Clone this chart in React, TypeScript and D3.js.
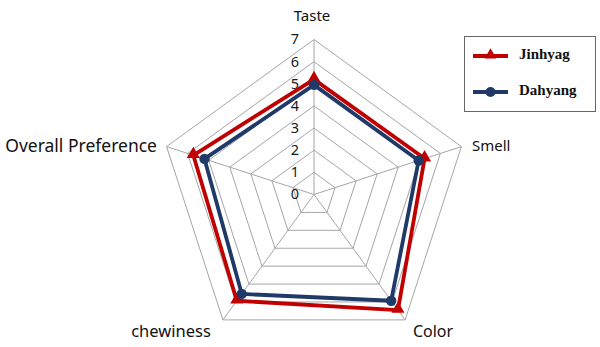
import React from "react";
import * as d3 from "d3";

// Sensory attributes (clockwise from the top)
const attributes = ["Taste", "Smell", "Color", "chewiness", "Overall Preference"];
// Mean scores per cultivar
const jinhyag = [5.2, 5.25, 6.45, 5.93, 5.73];
const dahyang = [4.95, 4.97, 5.93, 5.55, 5.2];
const ticks = [0, 1, 2, 3, 4, 5, 6, 7];
const seriesNames = ["Jinhyag", "Dahyang"];

const W = 600;
const H = 347;
const cx = 314;
const cy = 194.5;
const R = 155;

const rScale = d3.scaleLinear().domain([0, 7]).range([0, R]);
const angle = (i: number) => (i * 2 * Math.PI) / attributes.length;
const pt = (i: number, v: number): [number, number] => {
  const r = rScale(v);
  return [cx + r * Math.sin(angle(i)), cy - r * Math.cos(angle(i))];
};

const RED = "#C00000";
const NAVY = "#1F3A68";

const labelPos = [
  { x: 312, y: 17, anchor: "middle", size: 15 },
  { x: 472, y: 147, anchor: "start", size: 15 },
  { x: 433, y: 333, anchor: "middle", size: 16 },
  { x: 171, y: 333, anchor: "middle", size: 16.5 },
  { x: 157, y: 147, anchor: "end", size: 17.5 },
];

function Series({ values, color, marker }: { values: number[]; color: string; marker: "tri" | "dot" }) {
  const pts = values.map((v, i) => pt(i, v));
  const line = d3.line().curve(d3.curveLinearClosed)(pts) || "";
  const tri = d3.symbol(d3.symbolTriangle, 75)() || "";
  return (
    <g>
      <path d={line} fill="none" stroke={color} strokeWidth={3.8} strokeLinejoin="round" />
      {pts.map((p, i) =>
        marker === "tri" ? (
          <path key={i} d={tri} transform={`translate(${p[0]},${p[1] - 1})`} fill={color} />
        ) : (
          <circle key={i} cx={p[0]} cy={p[1]} r={5.2} fill={color} />
        )
      )}
    </g>
  );
}

export default function App() {
  const gridRings = ticks.filter((t) => t > 0);
  const tri = d3.symbol(d3.symbolTriangle, 60)() || "";
  return (
    <svg width={W} height={H} style={{ position: "absolute", left: 0, top: 0, background: "#fff" }}>
      {/* grid rings */}
      {gridRings.map((t) => (
        <path
          key={t}
          d={d3.line().curve(d3.curveLinearClosed)(attributes.map((_, i) => pt(i, t))) || ""}
          fill="none"
          stroke="#a6a6a6"
          strokeWidth={1}
        />
      ))}
      {/* spokes */}
      {attributes.map((_, i) => {
        const [x, y] = pt(i, 7);
        return <line key={i} x1={cx} y1={cy} x2={x} y2={y} stroke="#a6a6a6" strokeWidth={1} />;
      })}
      {/* tick labels */}
      {ticks.map((t) => (
        <text
          key={t}
          x={cx - 15}
          y={cy - rScale(t) + 1}
          textAnchor="end"
          dominantBaseline="middle"
          fontFamily="Noto Sans, sans-serif"
          fontSize={14.5}
          fill="#1a1a1a"
        >
          {t}
        </text>
      ))}
      <Series values={jinhyag} color={RED} marker="tri" />
      <Series values={dahyang} color={NAVY} marker="dot" />
      {/* axis labels */}
      {attributes.map((a, i) => (
        <text
          key={a}
          x={labelPos[i].x}
          y={labelPos[i].y}
          textAnchor={labelPos[i].anchor as any}
          dominantBaseline="middle"
          fontFamily="Noto Sans, sans-serif"
          fontSize={labelPos[i].size}
          fill="#111"
        >
          {a}
        </text>
      ))}
      {/* legend */}
      <g>
        <rect x={464.5} y={36.5} width={131} height={75} fill="#fff" stroke="#666" strokeWidth={1} />
        {seriesNames.map((n, k) => {
          const y = k === 0 ? 56 : 92;
          const color = k === 0 ? RED : NAVY;
          return (
            <g key={n}>
              <line x1={473} x2={508} y1={y} y2={y} stroke={color} strokeWidth={3.8} />
              {k === 0 ? (
                <path d={tri} transform={`translate(490.5,${y - 1})`} fill={color} />
              ) : (
                <circle cx={490.5} cy={y} r={5} fill={color} />
              )}
              <text
                x={519}
                y={y}
                dominantBaseline="middle"
                fontFamily="Liberation Serif, serif"
                fontWeight="bold"
                fontSize={15}
                fill="#111"
              >
                {n}
              </text>
            </g>
          );
        })}
      </g>
    </svg>
  );
}
